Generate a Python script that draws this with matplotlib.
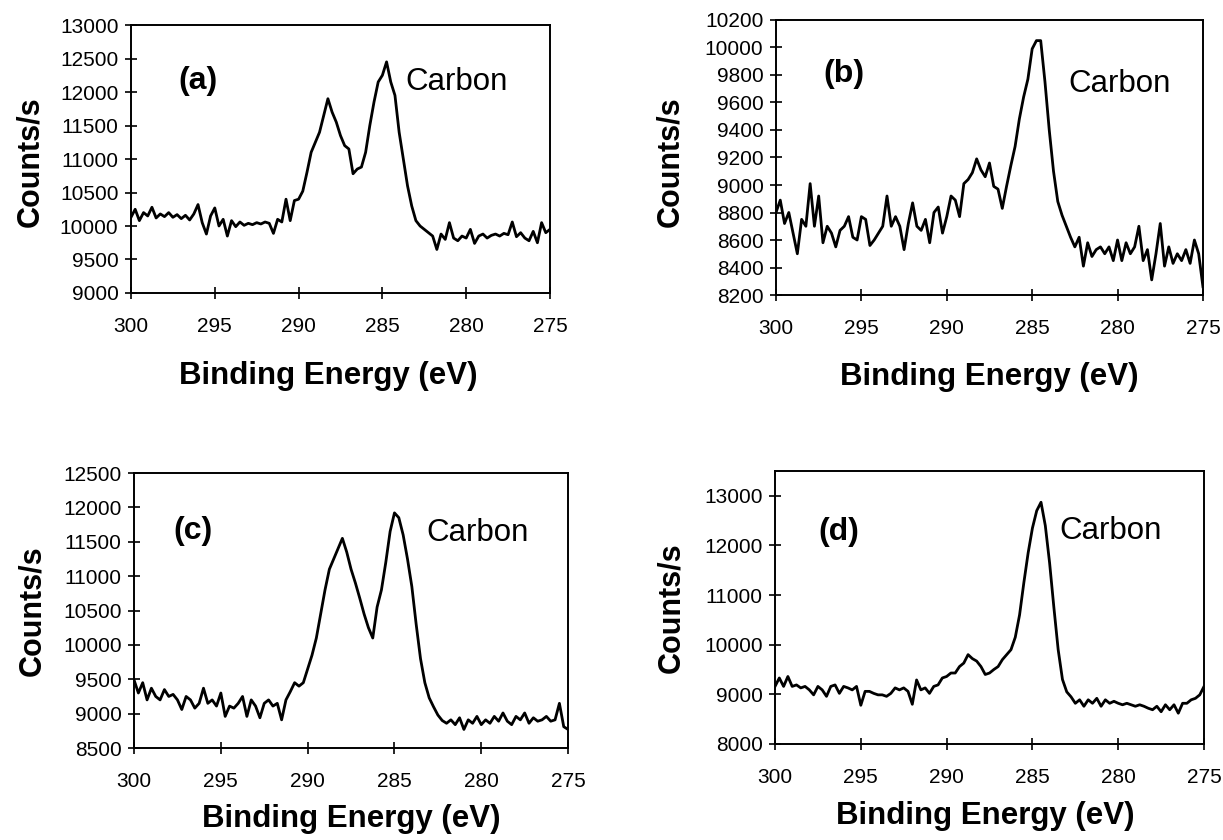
import numpy as np
import matplotlib
matplotlib.use('Agg')
import matplotlib.pyplot as plt

plt.rcParams['font.family'] = ['Liberation Sans', 'DejaVu Sans']

# binding energy grid, read every 0.25 eV from 300 down to 275
energy = np.linspace(300, 275, 101)

counts_a = [
    10130, 10250, 10080, 10200, 10150, 10280, 10120, 10180, 10140, 10200,
    10130, 10170, 10110, 10160, 10090, 10180, 10320, 10050, 9880, 10150,
    10270, 10000, 10100, 9850, 10080, 9990, 10060, 10010, 10040, 10020,
    10050, 10030, 10060, 10040, 9890, 10100, 10060, 10400, 10080, 10380,
    10400, 10520, 10800, 11100, 11250, 11400, 11650, 11900, 11700, 11550,
    11350, 11200, 11150, 10780, 10850, 10880, 11100, 11500, 11850, 12150,
    12250, 12450, 12150, 11950, 11400, 11000, 10600, 10300, 10080, 10000,
    9950, 9900, 9850, 9650, 9880, 9800, 10050, 9820, 9780, 9850,
    9820, 9950, 9740, 9850, 9880, 9820, 9860, 9880, 9850, 9890,
    9870, 10060, 9840, 9900, 9820, 9780, 9920, 9750, 10050, 9900,
    9950]

counts_b = [
    8800, 8890, 8720, 8800, 8650, 8500, 8750, 8700, 9010, 8700,
    8920, 8580, 8700, 8650, 8550, 8670, 8700, 8770, 8620, 8600,
    8770, 8750, 8560, 8600, 8650, 8700, 8920, 8700, 8770, 8700,
    8530, 8720, 8870, 8700, 8670, 8750, 8580, 8800, 8840, 8650,
    8770, 8920, 8890, 8770, 9010, 9040, 9090, 9190, 9110, 9060,
    9160, 8990, 8970, 8830, 8990, 9140, 9280, 9480, 9640, 9770,
    9990, 10050, 10050, 9750, 9400, 9100, 8880, 8780, 8700, 8620,
    8550, 8620, 8410, 8580, 8480, 8530, 8550, 8500, 8550, 8450,
    8600, 8450, 8580, 8500, 8550, 8700, 8450, 8530, 8310, 8500,
    8720, 8410, 8550, 8430, 8500, 8450, 8530, 8430, 8600, 8500,
    8260]

counts_c = [
    9490, 9300, 9450, 9200, 9370, 9250, 9200, 9350, 9250, 9280,
    9200, 9060, 9250, 9200, 9080, 9150, 9370, 9150, 9200, 9110,
    9300, 8960, 9110, 9080, 9150, 9250, 8960, 9200, 9110, 8940,
    9150, 9200, 9110, 9150, 8910, 9200, 9320, 9450, 9400, 9450,
    9650, 9850, 10100, 10450, 10800, 11100, 11250, 11400, 11550, 11350,
    11100, 10900, 10680, 10450, 10250, 10100, 10550, 10800, 11200, 11650,
    11920, 11850, 11600, 11250, 10850, 10300, 9800, 9450, 9230, 9100,
    8980, 8900, 8860, 8910, 8840, 8940, 8770, 8910, 8860, 8960,
    8840, 8910, 8860, 8960, 8890, 9010, 8890, 8840, 8960, 8910,
    9010, 8860, 8940, 8890, 8910, 8960, 8890, 8910, 9150, 8810,
    8770]

counts_d = [
    9160, 9330, 9160, 9360, 9160, 9190, 9130, 9160, 9090, 8990,
    9160, 9090, 8960, 9160, 9190, 9020, 9160, 9130, 9090, 9160,
    8780, 9060, 9060, 9020, 8990, 8990, 8960, 9020, 9130, 9090,
    9130, 9060, 8800, 9290, 9090, 9130, 9020, 9160, 9190, 9330,
    9360, 9430, 9430, 9560, 9630, 9800, 9720, 9670, 9560, 9400,
    9430, 9500, 9560, 9700, 9800, 9900, 10150, 10600, 11250, 11850,
    12350, 12700, 12870, 12400, 11650, 10750, 9900, 9300, 9050, 8950,
    8820, 8890, 8760, 8890, 8820, 8920, 8760, 8890, 8820, 8860,
    8820, 8790, 8820, 8790, 8760, 8790, 8760, 8720, 8690, 8760,
    8650, 8790, 8690, 8790, 8620, 8820, 8820, 8890, 8920, 8990,
    9160]

panels = ['(a)', '(b)', '(c)', '(d)']
series = [counts_a, counts_b, counts_c, counts_d]
y_limits = [(9000, 13000), (8200, 10200), (8500, 12500), (8000, 13500)]
y_steps = [500, 200, 500, 1000]
y_top_tick = [13000, 10200, 12500, 13000]
x_ticks = [300, 295, 290, 285, 280, 275]

# axes boxes in figure fractions: left, bottom, width, height
boxes = [
    [0.1071, 0.6512, 0.3426, 0.3190],
    [0.6345, 0.6488, 0.3491, 0.3274],
    [0.1096, 0.1095, 0.3549, 0.3274],
    [0.6337, 0.1143, 0.3508, 0.3250],
]
tag_pos = [(0.112, 0.791), (0.110, 0.802), (0.090, 0.789), (0.100, 0.778)]
carbon_pos = [(0.656, 0.787), (0.684, 0.767), (0.673, 0.782), (0.662, 0.780)]
ylabel_pos = [(-0.205, 0.49), (-0.212, 0.484), (-0.200, 0.50), (-0.208, 0.50)]
xlabel_pos = [(0.47, -0.255), (0.50, -0.245), (0.50, -0.205), (0.49, -0.21)]

fig = plt.figure(figsize=(12.23, 8.40), dpi=100)

for i in range(4):
    ax = fig.add_axes(boxes[i])
    ax.plot(energy, series[i], color='black', lw=2.0)

    ax.set_xlim(300, 275)
    ax.set_ylim(y_limits[i])
    ax.set_xticks(x_ticks)
    ax.set_yticks(range(y_limits[i][0], y_top_tick[i] + 1, y_steps[i]))
    ax.tick_params(axis='x', direction='inout', length=8, width=1.2,
                   pad=13, labelsize=15)
    ax.tick_params(axis='y', direction='inout', length=8, width=1.2,
                   pad=5, labelsize=15)
    for s in ax.spines.values():
        s.set_linewidth(1.4)

    ax.set_xlabel('Binding Energy (eV)', fontsize=22.5, fontweight='bold')
    ax.xaxis.set_label_coords(*xlabel_pos[i])
    ax.set_ylabel('Counts/s', fontsize=22, fontweight='bold')
    ax.yaxis.set_label_coords(*ylabel_pos[i])

    ax.text(tag_pos[i][0], tag_pos[i][1], panels[i], transform=ax.transAxes,
            fontsize=23, fontweight='bold', va='center', ha='left')
    ax.text(carbon_pos[i][0], carbon_pos[i][1], 'Carbon', transform=ax.transAxes,
            fontsize=22.5, va='center', ha='left')

fig.savefig('out.png', dpi=100)
